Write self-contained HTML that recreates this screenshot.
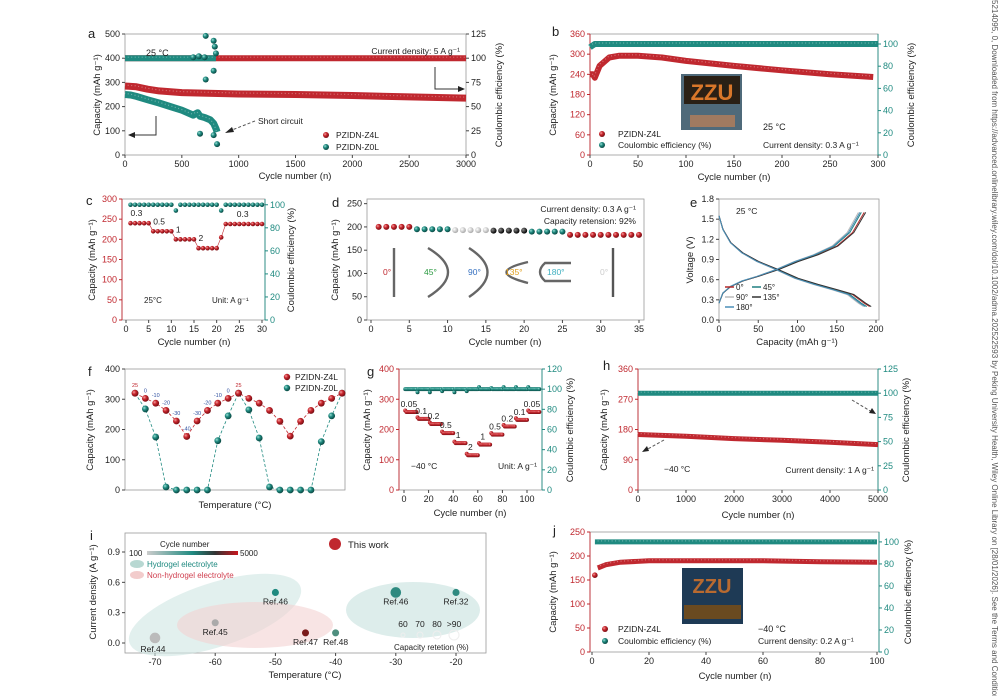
<!DOCTYPE html>
<html><head><meta charset="utf-8"><style>
html,body{margin:0;padding:0;background:#fff;}
svg{display:block;font-family:"Liberation Sans",sans-serif;}
</style></head><body>
<svg id="fig" width="1000" height="696" viewBox="0 0 1000 696">
<defs>
<radialGradient id="gr" cx="35%" cy="35%" r="65%"><stop offset="0" stop-color="#f3a0a0"/><stop offset="0.45" stop-color="#c8262d"/><stop offset="1" stop-color="#7a0e14"/></radialGradient>
<radialGradient id="gt" cx="35%" cy="35%" r="65%"><stop offset="0" stop-color="#9fe0d6"/><stop offset="0.45" stop-color="#1f8a80"/><stop offset="1" stop-color="#0b4a44"/></radialGradient>
<radialGradient id="gg" cx="35%" cy="35%" r="65%"><stop offset="0" stop-color="#fff"/><stop offset="1" stop-color="#aaa"/></radialGradient>
<radialGradient id="gk" cx="35%" cy="35%" r="65%"><stop offset="0" stop-color="#888"/><stop offset="1" stop-color="#000"/></radialGradient>
<linearGradient id="cbar" x1="0" x2="1"><stop offset="0" stop-color="#ccc"/><stop offset="0.5" stop-color="#1f8a80"/><stop offset="0.75" stop-color="#333"/><stop offset="1" stop-color="#c8161d"/></linearGradient>
</defs>
</svg>
<script>
const RED='#c0282f', TEAL='#1f8a80';
// ---- data arrays ----
const aCycles=[0,100,200,300,500,1000,1500,2000,2500,3000];
const aZ4L=[285,282,272,265,258,252,250,246,240,235];
const aCEcycles=[0,3000];
const aCEZ4L=[100,100];
const aZ0Lcycles=[0,50,100,200,300,400,500,600,640,660,700,750,780,800,810];
const aZ0L=[250,248,242,228,215,200,185,165,175,160,155,145,130,110,95];
const aZ0LoutX=[660,780,810];
const aZ0LoutY=[88,82,45];
const aCEZ0Lcycles=[0,800];
const aCEZ0L=[100,100];
const aCEoutX=[600,650,700,710,710,780,790,780,800];
const aCEoutY=[101,102,101,123,78,118,112,87,105];

const bCycles=[0,3,5,10,20,30,50,75,100,150,200,250,295];
const bCap=[240,240,230,265,290,295,295,290,280,265,252,240,232];
const bCEcycles=[0,5,300];
const bCE=[97,100,100];

const cCap=[240,240,240,240,240,220,220,220,220,220,200,200,200,200,200,178,178,178,178,178,205,238,238,238,238,238,238,238,238,238];
const cCE=[100,100,100,100,100,100,100,100,100,100,95,100,100,100,100,100,100,100,100,100,95,100,100,100,100,100,100,100,100,100];
const cRates=['0.3','0.5','1','2','0.3'];

const dCap=[200,200,200,200,200,195,195,195,195,195,193,193,193,193,193,192,192,192,192,192,190,190,190,190,190,183,183,183,183,183,183,183,183,183,183];
const dColor=['r','r','r','r','r','t','t','t','t','t','g','g','g','g','g','k','k','k','k','k','t','t','t','t','t','r','r','r','r','r','r','r','r','r','r'];

const eChargeQ=[0,5,15,30,50,75,100,125,150,170,185];
const eChargeV=[0.25,0.4,0.5,0.58,0.65,0.75,0.87,0.97,1.1,1.3,1.6];
const eDisQ=[0,5,15,30,50,75,100,125,150,170,185,192];
const eDisV=[1.55,1.35,1.15,1.0,0.87,0.75,0.62,0.53,0.45,0.38,0.25,0.2];
const eScale=[1.0,0.98,0.96,1.01,0.97];
const eColors=['#b22a2a','#1f7f80','#bbbbbb','#333333','#4a8fb8'];
const eLabels=['0°','45°','90°','135°','180°'];

const fZ4L=[320,303,287,263,228,177,228,263,287,303,320,303,287,263,227,178,227,263,287,303,320];
const fZ0L=[320,268,175,10,0,0,0,0,163,245,320,265,172,10,0,0,0,0,160,245,320];
const fTemps=['25','0','-10','-20','-30','-40','-30','-20','-10','0','25'];

const gCap=[258,235,218,188,155,115,150,183,210,232,258];
const gRates=['0.05','0.1','0.2','0.5','1','2','1','0.5','0.2','0.1','0.05'];
const gCE=[100,97,97,98,97,98,102,101,102,102,102];

const hCycles=[0,1000,2000,3000,4000,5000];
const hCap=[165,160,153,148,142,135];
const hCE=[100,100,100,100,100,100];

const iTemps=[-70,-60,-50,-45,-40,-30,-20];
const iCurr=[0.05,0.2,0.5,0.1,0.1,0.5,0.5];
const iRefs=['Ref.44','Ref.45','Ref.46','Ref.47','Ref.48','Ref.46','Ref.32'];
const iCols=['#bbb','#aaa','#1f8a80','#7a1a1a','#4f8f7f','#2f8a80','#2f8a80'];
const iSize=[9,6,6,6,6,9,6];

const jCycles=[1,2,5,10,20,40,60,80,100];
const jCap=[160,175,182,187,190,190,190,188,187];
const jCE=[100,100,100,100,100,100,100,100,100];

// ---- helpers ----
const svg=document.getElementById('fig');
const NS='http://www.w3.org/2000/svg';
function mk(tag,at,parent){const e=document.createElementNS(NS,tag);for(const k in at)e.setAttribute(k,at[k]);(parent||svg).appendChild(e);return e;}
function txt(x,y,s,at,parent){const e=mk('text',Object.assign({x:x,y:y,'font-size':9,fill:'#222'},at||{}),parent);e.textContent=s;return e;}
function lin(d0,d1,p0,p1){return v=>p0+(v-d0)*(p1-p0)/(d1-d0);}
function grp(name){const g=mk('g',{});return g;}
function ball(x,y,r,fill,g){const c=mk('circle',{cx:x,cy:y,r:r,fill:fill},g);return c;}
function beads(xs,ys,fx,fy,color,g,w){const d=xs.map((v,i)=>(i?'L':'M')+fx(v).toFixed(1)+','+fy(ys[i]).toFixed(1)).join('');
  mk('path',{d:d,fill:'none',stroke:color,'stroke-width':w||5,'stroke-linejoin':'round'},g);
  const p=mk('path',{d:d,fill:'none',stroke:'#fff','stroke-opacity':0.35,'stroke-width':1.2,'stroke-dasharray':'1 2.5',transform:'translate(-0.8,-1)'},g);
  }
function frame(g,x0,x1,yt,yb,lc,rc){mk('rect',{x:x0,y:yt,width:x1-x0,height:yb-yt,fill:'none',stroke:'#999','stroke-width':0.8},g);
  if(lc)mk('line',{x1:x0,y1:yt,x2:x0,y2:yb,stroke:lc,'stroke-width':0.9},g);
  if(rc)mk('line',{x1:x1,y1:yt,x2:x1,y2:yb,stroke:rc,'stroke-width':0.9},g);}
function xticks(g,vals,fx,yb,labs){vals.forEach((v,i)=>{const x=fx(v);mk('line',{x1:x,y1:yb,x2:x,y2:yb+3,stroke:'#444'},g);const t=txt(x,yb+12,labs?labs[i]:String(v),{'text-anchor':'middle'},g);});}
function yticks(g,vals,fy,x,side,color){vals.forEach(v=>{const y=fy(v);mk('line',{x1:x,y1:y,x2:x+(side<0?-3:3),y2:y,stroke:color||'#444'},g);const t=txt(x+(side<0?-5:5),y+3,String(v),{'text-anchor':side<0?'end':'start',fill:color||'#222'},g);});}
function ytitle(g,x,y,s,color){const t=txt(x,y,s,{'text-anchor':'middle',transform:'rotate(-90 '+x+' '+y+')','font-size':9.5,fill:color||'#222'},g);return t;}
function xtitle(g,x,y,s){const t=txt(x,y,s,{'text-anchor':'middle','font-size':9.5},g);}
function plabel(g,x,y,s){const t=txt(x,y,s,{'font-size':13},g);}
function range(a,b,s){const r=[];for(let v=a;v<=b+1e-9;v+=s)r.push(+v.toFixed(3));return r;}

// ---- panel a ----
(function(){const g=grp('panel-a');const fx=lin(0,3000,125,466),fy=lin(0,500,155,34),fr=lin(0,125,155,34);
frame(g,125,466,34,155);plabel(g,88,38,'a');
xticks(g,range(0,3000,500),fx,155);yticks(g,range(0,500,100),fy,125,-1);yticks(g,range(0,125,25),fr,466,1);
ytitle(g,100,95,'Capacity (mAh g⁻¹)');ytitle(g,502,95,'Coulombic efficiency (%)');xtitle(g,295,179,'Cycle number (n)');
beads(aCEcycles,aCEZ4L,fx,fr,RED,g,6);
beads(aCycles,aZ4L,fx,fy,RED,g,7);
beads(aCEZ0Lcycles,aCEZ0L,fx,fr,TEAL,g,6);
beads(aZ0Lcycles,aZ0L,fx,fy,TEAL,g,7);
aZ0LoutX.forEach((x,i)=>ball(fx(x),fy(aZ0LoutY[i]),3,'url(#gt)',g));
aCEoutX.forEach((x,i)=>ball(fx(x),fr(aCEoutY[i]),3,'url(#gt)',g));
txt(146,56,'25 °C',{'font-size':9},g);txt(460,54,'Current density: 5 A g⁻¹',{'text-anchor':'end','font-size':8.5},g);
txt(258,124,'Short circuit',{'font-size':8.5},g);
mk('path',{d:'M255,121 L232,130',stroke:'#555','stroke-dasharray':'3 2',fill:'none'},g);mk('path',{d:'M225,133 l7,-6 l2,5z',fill:'#222'},g);
mk('path',{d:'M156,116 V135 H132',stroke:'#333',fill:'none'},g);mk('path',{d:'M128,135 l7,-3 v6z',fill:'#222'},g);
mk('path',{d:'M435,67 V89 H462',stroke:'#333',fill:'none'},g);mk('path',{d:'M465,89 l-7,-3 v6z',fill:'#222'},g);
ball(326,135,3,'url(#gr)',g);txt(336,138,'PZIDN-Z4L',{'font-size':8.5},g);
ball(326,147,3,'url(#gt)',g);txt(336,150,'PZIDN-Z0L',{'font-size':8.5},g);})();

// ---- panel b ----
(function(){const g=grp('panel-b');const fx=lin(0,300,590,878),fy=lin(0,360,155,34),fr=lin(0,109,155,34);
frame(g,590,878,34,155,RED,TEAL);plabel(g,552,36,'b');
xticks(g,range(0,300,50),fx,155);yticks(g,range(0,360,60),fy,590,-1,RED);yticks(g,range(0,100,20),fr,878,1,TEAL);
ytitle(g,556,95,'Capacity (mAh g⁻¹)');ytitle(g,914,95,'Coulombic efficiency (%)');xtitle(g,734,180,'Cycle number (n)');
beads(bCEcycles,bCE,fx,fr,TEAL,g,6);beads(bCycles,bCap,fx,fy,RED,g,6);
const ins=mk('g',{},g);
mk('rect',{x:681,y:74,width:61,height:56,fill:'#4f6a7a'},ins);mk('rect',{x:684,y:76,width:56,height:28,fill:'#2a2015'},ins);
txt(712,100,'ZZU',{'text-anchor':'middle','font-size':22,'font-weight':'bold',fill:'#d9772a'},ins);mk('rect',{x:690,y:115,width:45,height:12,fill:'#a07a60'},ins);
ball(602,134,3,'url(#gr)',g);txt(618,137,'PZIDN-Z4L',{'font-size':8.5},g);
ball(602,145,3,'url(#gt)',g);txt(618,148,'Coulombic efficiency (%)',{'font-size':8.5},g);
txt(763,130,'25 °C',{'font-size':9},g);txt(763,148,'Current density: 0.3 A g⁻¹',{'font-size':8.5},g);})();

// ---- panel c ----
(function(){const g=grp('panel-c');const fx=lin(0,30,126,262),fy=lin(0,300,320,199),fr=lin(0,105,320,199);
frame(g,122,265,199,320,RED,TEAL);plabel(g,86,205,'c');
xticks(g,range(0,30,5),fx,320);yticks(g,range(0,300,50),fy,122,-1,RED);yticks(g,range(0,100,20),fr,265,1,TEAL);
ytitle(g,95,260,'Capacity (mAh g⁻¹)',);ytitle(g,294,260,'Coulombic efficiency (%)');xtitle(g,194,345,'Cycle number (n)');
cCE.forEach((v,i)=>ball(fx(i+1),fr(v),2.3,'url(#gt)',g));
const cy=cCap.map((v,i)=>(i?'L':'M')+fx(i+1)+','+fy(v)).join('');mk('path',{d:cy,stroke:RED,fill:'none','stroke-width':0.6},g);
cCap.forEach((v,i)=>ball(fx(i+1),fy(v),2.3,'url(#gr)',g));
[1,6,11,16,24].forEach((c,i)=>txt(fx(c)+(i==4?2:0),fy(cCap[c-1])-7,cRates[i],{'font-size':8.5},g));
txt(144,303,'25°C',{'font-size':8},g);txt(212,303,'Unit: A g⁻¹',{'font-size':8},g);})();

// ---- panel d ----
(function(){const g=grp('panel-d');const fx=lin(0,35,371,639),fy=lin(0,260,320,199);
frame(g,367,644,199,320);plabel(g,332,207,'d');
xticks(g,range(0,35,5),fx,320);yticks(g,range(0,250,50),fy,367,-1);
ytitle(g,338,260,'Capacity (mAh g⁻¹)');xtitle(g,505,345,'Cycle number (n)');
const cm={r:'url(#gr)',t:'url(#gt)',g:'url(#gg)',k:'url(#gk)'};
dCap.forEach((v,i)=>ball(fx(i+1),fy(v),3,cm[dColor[i]],g));
txt(636,212,'Current density: 0.3 A g⁻¹',{'text-anchor':'end','font-size':8.5},g);txt(636,224,'Capacity retension: 92%',{'text-anchor':'end','font-size':8.5},g);
const bd=mk('g',{stroke:'#666','stroke-width':2.4,fill:'none'},g);
mk('path',{d:'M394,297 V248'},bd);mk('path',{d:'M428,297 Q468,272 428,248'},bd);mk('path',{d:'M469,297 Q506,272 469,248'},bd);
mk('path',{d:'M528,262 Q485,272 528,283'},bd);mk('path',{d:'M571,263 H545 Q535,272 545,281 H571'},bd);mk('path',{d:'M613,297 V248',stroke:'#555'},bd);
[['0°',383,RED],['45°',424,'#2a9a40'],['90°',468,'#3570c0'],['135°',505,'#e0a020'],['180°',547,'#40b0c0'],['0°',600,'#ccc']].forEach(a=>txt(a[1],275,a[0],{'font-size':8.5,fill:a[2]},g));})();

// ---- panel e ----
(function(){const g=grp('panel-e');const fx=lin(0,200,719,876),fy=lin(0,1.8,320,199);
frame(g,719,879,199,320);plabel(g,690,207,'e');
xticks(g,range(0,200,50),fx,320);yticks(g,range(0,1.8,0.3).map(v=>v.toFixed(1)),v=>fy(+v),719,-1);
ytitle(g,693,260,'Voltage (V)');xtitle(g,797,345,'Capacity (mAh g⁻¹)');
eScale.forEach((s,k)=>{const dc=eChargeQ.map((q,i)=>(i?'L':'M')+fx(q*s).toFixed(1)+','+fy(eChargeV[i]).toFixed(1)).join('');
 const dd=eDisQ.map((q,i)=>(i?'L':'M')+fx(q*s).toFixed(1)+','+fy(eDisV[i]).toFixed(1)).join('');
 const p1=mk('path',{d:dc,stroke:eColors[k],fill:'none','stroke-width':1},g);
 const p2=mk('path',{d:dd,stroke:eColors[k],fill:'none','stroke-width':1},g);});
txt(736,214,'25 °C',{'font-size':8.5},g);
const pos=[[725,290],[752,290],[725,300],[752,300],[725,310]];
eLabels.forEach((l,k)=>{mk('line',{x1:pos[k][0],y1:pos[k][1]-3,x2:pos[k][0]+9,y2:pos[k][1]-3,stroke:eColors[k],'stroke-width':1.5},g);txt(pos[k][0]+11,pos[k][1],l,{'font-size':8},g);});})();

// ---- panel f ----
(function(){const g=grp('panel-f');const fx=lin(0,20,135,342),fy=lin(0,400,490,369);
frame(g,125,345,369,490);plabel(g,88,376,'f');
yticks(g,range(0,400,100),fy,125,-1);ytitle(g,93,430,'Capacity (mAh g⁻¹)');xtitle(g,235,508,'Temperature (°C)');
const dz=fZ0L.map((v,i)=>(i?'L':'M')+fx(i)+','+fy(v)).join('');mk('path',{d:dz,stroke:TEAL,'stroke-dasharray':'3 2',fill:'none','stroke-width':0.8},g);
fZ0L.forEach((v,i)=>ball(fx(i),fy(v),3.4,'url(#gt)',g));
const dr=fZ4L.map((v,i)=>(i?'L':'M')+fx(i)+','+fy(v)).join('');mk('path',{d:dr,stroke:RED,'stroke-dasharray':'3 2',fill:'none','stroke-width':0.8},g);
fZ4L.forEach((v,i)=>ball(fx(i),fy(v),3.4,'url(#gr)',g));
fTemps.forEach((t,i)=>txt(fx(i),fy(fZ4L[i])-6,t,{'text-anchor':'middle','font-size':5.5,fill:i==0||i==10?RED:'#3050a0'},g));
ball(287,377,3.2,'url(#gr)',g);txt(295,380,'PZIDN-Z4L',{'font-size':8.5},g);
ball(287,388,3.2,'url(#gt)',g);txt(295,391,'PZIDN-Z0L',{'font-size':8.5},g);})();

// ---- panel g ----
(function(){const g=grp('panel-g');const fx=lin(0,100,404,527),fy=lin(0,400,490,369),fr=lin(0,120,490,369);
frame(g,399,542,369,490,RED,TEAL);plabel(g,367,376,'g');
xticks(g,range(0,100,20),fx,490);yticks(g,range(0,400,100),fy,399,-1,RED);yticks(g,range(0,120,20),fr,542,1,TEAL);
ytitle(g,370,430,'Capacity (mAh g⁻¹)');ytitle(g,573,430,'Coulombic efficiency (%)');xtitle(g,470,516,'Cycle number (n)');
for(let c=1;c<=110;c++){const s=Math.floor((c-1)/10);ball(fx(c),fr((c-1)%10==0?gCE[s]:100),2,'url(#gt)',g);}
for(let c=1;c<=110;c++){const s=Math.floor((c-1)/10);ball(fx(c),fy(gCap[s]+((c-1)%10==0?5:0)),2,'url(#gr)',g);}
gRates.forEach((r,s)=>txt(fx(s*10+4),fy(gCap[s])-5,r,{'text-anchor':'middle','font-size':8.5},g));
txt(411,469,'−40 °C',{'font-size':8.5},g);txt(537,469,'Unit: A g⁻¹',{'text-anchor':'end','font-size':8.5},g);})();

// ---- panel h ----
(function(){const g=grp('panel-h');const fx=lin(0,5000,638,878),fy=lin(0,360,490,369),fr=lin(0,125,490,369);
frame(g,638,878,369,490,RED,TEAL);plabel(g,603,370,'h');
xticks(g,range(0,5000,1000),fx,490);yticks(g,range(0,360,90),fy,638,-1,RED);yticks(g,range(0,125,25),fr,878,1,TEAL);
ytitle(g,607,430,'Capacity (mAh g⁻¹)');ytitle(g,909,430,'Coulombic efficiency (%)');xtitle(g,758,518,'Cycle number (n)');
beads(hCycles,hCE,fx,fr,TEAL,g,5);beads(hCycles,hCap,fx,fy,RED,g,5);
txt(664,472,'−40 °C',{'font-size':8.5},g);txt(874,473,'Current density: 1 A g⁻¹',{'text-anchor':'end','font-size':8.5},g);
mk('path',{d:'M664,440 L646,450',stroke:'#555','stroke-dasharray':'3 2'},g);mk('path',{d:'M642,452 l5,-6 l2,5z',fill:'#222'},g);
mk('path',{d:'M852,400 L872,412',stroke:'#555','stroke-dasharray':'3 2'},g);mk('path',{d:'M876,414 l-7,-1 l3,-5z',fill:'#222'},g);})();

// ---- panel i ----
(function(){const g=grp('panel-i');const fx=lin(-70,-20,155,456),fy=lin(0,0.9,643,552);
frame(g,125,486,533,653);plabel(g,90,540,'i');
xticks(g,[-70,-60,-50,-40,-30,-20],fx,653);yticks(g,[0,0.3,0.6,0.9].map(v=>v.toFixed(1)),v=>fy(+v),125,-1);
ytitle(g,96,592,'Current density (A g⁻¹)');xtitle(g,305,678,'Temperature (°C)');
mk('ellipse',{cx:215,cy:615,rx:90,ry:32,fill:'#cfe6e2','fill-opacity':0.6,transform:'rotate(-18 215 615)'},g);
mk('ellipse',{cx:255,cy:625,rx:78,ry:23,fill:'#f4d2d2','fill-opacity':0.6},g);
mk('ellipse',{cx:413,cy:610,rx:67,ry:28,fill:'#cfe6e2','fill-opacity':0.7},g);
iTemps.forEach((t,i)=>{ball(fx(t),fy(iCurr[i]),iSize[i]/1.7,iCols[i],g);txt(fx(t)+(i==0?-2:0),fy(iCurr[i])+(i==0?14:12),iRefs[i],{'text-anchor':'middle','font-size':8.5},g);});
ball(335,544,6,RED,g);txt(348,548,'This work',{'font-size':9.5},g);
txt(160,547,'Cycle number',{'font-size':8},g);txt(129,556,'100',{'font-size':8},g);
mk('rect',{x:147,y:551,width:91,height:4,fill:'url(#cbar)'},g);txt(240,556,'5000',{'font-size':8},g);
mk('ellipse',{cx:137,cy:564,rx:7,ry:4,fill:'#b8d8d2'},g);txt(147,567,'Hydrogel electrolyte',{'font-size':8,fill:TEAL},g);
mk('ellipse',{cx:137,cy:575,rx:7,ry:4,fill:'#f2cccc'},g);txt(147,578,'Non-hydrogel electrolyte',{'font-size':8,fill:'#d04050'},g);
['60','70','80','>90'].forEach((s,k)=>{txt(403+k*17,627,s,{'text-anchor':'middle','font-size':8.5},g);mk('circle',{cx:403+k*17,cy:635,r:2+k,fill:'none',stroke:'#eee'},g);});
txt(394,650,'Capacity retetion (%)',{'font-size':8},g);})();

// ---- panel j ----
(function(){const g=grp('panel-j');const fx=lin(0,100,592,877),fy=lin(0,250,652,532),fr=lin(0,109,652,532);
frame(g,590,879,532,652,RED,TEAL);plabel(g,553,535,'j');
xticks(g,range(0,100,20),fx,652);yticks(g,range(0,250,50),fy,590,-1,RED);yticks(g,range(0,100,20),fr,879,1,TEAL);
ytitle(g,556,592,'Capacity (mAh g⁻¹)');ytitle(g,911,592,'Coulombic efficiency (%)');xtitle(g,735,679,'Cycle number (n)');
beads(jCycles,jCE,fx,fr,TEAL,g,5);beads(jCycles.slice(1),jCap.slice(1),fx,fy,RED,g,5);ball(fx(jCycles[0]),fy(jCap[0]),2.8,'url(#gr)',g);
const ins=mk('g',{},g);
mk('rect',{x:682,y:568,width:61,height:56,fill:'#1e3a55'},ins);
txt(712,593,'ZZU',{'text-anchor':'middle','font-size':20,'font-weight':'bold',fill:'#b86a30'},ins);mk('rect',{x:684,y:605,width:57,height:14,fill:'#6a4a20'},ins);
ball(605,629,3,'url(#gr)',g);txt(618,632,'PZIDN-Z4L',{'font-size':8.5},g);
ball(605,641,3,'url(#gt)',g);txt(618,644,'Coulombic efficiency (%)',{'font-size':8.5},g);
txt(758,632,'−40 °C',{'font-size':9},g);txt(758,644,'Current density: 0.2 A g⁻¹',{'font-size':8.5},g);})();

// watermark
const wm=txt(992,0,'5214095, 0, Downloaded from https://advanced.onlinelibrary.wiley.com/doi/10.1002/adma.202522593 by Peking University Health, Wiley Online Library on [28/01/2026]. See the Terms and Conditions',{'font-size':8,fill:'#555',transform:'rotate(90 992 0)'});


</script>
</body></html>
